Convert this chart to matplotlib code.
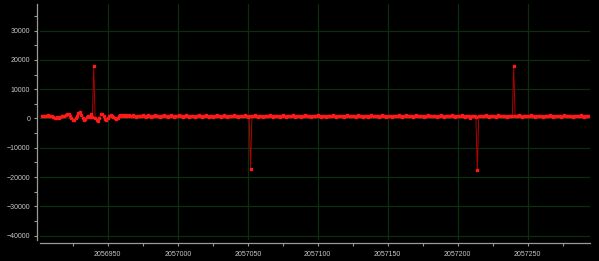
import numpy as np
import matplotlib.pyplot as plt
from matplotlib.ticker import MultipleLocator

# sample index of first point, one sample per unit
x_start = 2056903

# signal values, one per sample
signal = [
    900, 1000, 800, 900, 1100, 800, 700, 900, 600, 300,
    200, 400, 300, 600, 800, 700, 900, 1200, 1600, 1400,
    900, 300, -400, -600, 200, 1000, 1900, 2100, 1200, 300,
    -400, -300, 400, 1000, 600, 1500, 600, 17800, 300, -600,
    -900, 200, 1400, 1700, 900, -200, -500, 0, 700, 1200,
    800, 400, 0, -200, 300, 900, 1300, 1000, 1200, 900,
    1300, 800, 1100, 700, 900, 1200, 800, 600, 1000, 900,
    700, 1000, 1200, 800, 600, 900, 1100, 700, 500, 800,
    1000, 1300, 900, 700, 600, 800, 1000, 1200, 900, 700,
    500, 800, 1200, 900, 600, 1000, 800, 700, 1100, 900,
    800, 600, 900, 1100, 700, 500, 800, 1000, 900, 600,
    700, 1000, 1200, 800, 500, 700, 900, 1100, 800, 600,
    900, 700, 500, 800, 1000, 1300, 900, 700, 600, 900,
    1100, 800, 600, 700, 1000, 900, 700, 1200, 1000, 700,
    500, 800, 900, 700, 1000, 1100, 800, 600, 900, -17100,
    700, 700, 1100, 800, 600, 900, 1000, 700, 500, 800,
    1000, 700, 900, 1200, 800, 600, 700, 1000, 900, 700,
    500, 800, 1100, 900, 600, 800, 1000, 700, 900, 1100,
    800, 600, 700, 1000, 800, 500, 700, 900, 1200, 800,
    700, 900, 600, 800, 1000, 700, 900, 1100, 800, 600,
    700, 1000, 800, 500, 800, 900, 700, 1000, 1200, 800,
    600, 900, 700, 800, 1000, 700, 500, 800, 1100, 900,
    700, 800, 1000, 800, 600, 900, 1100, 700, 800, 600,
    900, 1000, 700, 500, 800, 1200, 900, 700, 800, 1000,
    700, 600, 900, 1100, 800, 700, 500, 900, 1000, 800,
    600, 800, 1000, 700, 900, 1200, 800, 600, 700, 900,
    1100, 800, 700, 1000, 900, 600, 800, 1100, 900, 700,
    800, 1000, 700, 500, 800, 900, 1200, 800, 700, 900,
    1000, 700, 600, 900, 800, 1100, 700, 500, 800, 1000,
    900, 700, 800, 1100, 900, 600, 800, 1000, 700, 900,
    1200, 800, 600, 700, 1000, 800, 300, 700, 1000, 800,
    600, -17700, 900, 800, 1000, 700, 900, 1200, 800, 600,
    700, 1000, 800, 900, 600, 800, 1100, 900, 700, 800,
    1000, 700, 600, 900, 800, 700, 800, 17800, 900, 800,
    900, 1100, 700, 600, 800, 1000, 900, 700, 800, 1100,
    900, 700, 500, 800, 1000, 800, 700, 900, 600, 800,
    1000, 700, 800, 1100, 900, 600, 800, 900, 700, 1000,
    800, 600, 900, 1100, 800, 700, 900, 1000, 700, 500,
    800, 1000, 900, 700, 800, 1100, 900, 600, 800, 900,
    700,
]

W, H = 599, 261
fig = plt.figure(figsize=(W / 100, H / 100), dpi=100, facecolor="black")
ax = fig.add_axes([40 / W, 21 / H, 550 / W, 236 / H], facecolor="black")

x = x_start + np.arange(len(signal))
ax.plot(x, signal, color="#b00000", lw=0.7, zorder=3)
ax.plot(x, signal, ls="none", marker="s", ms=1.6,
        mfc="#ff1a1a", mec="#ff1a1a", zorder=4)

ax.set_xlim(2056901.6, 2057294.5)
ax.set_ylim(-41500, 39100)

ax.xaxis.set_major_locator(MultipleLocator(50))
ax.xaxis.set_minor_locator(MultipleLocator(25))
ax.yaxis.set_major_locator(MultipleLocator(10000))
ax.yaxis.set_minor_locator(MultipleLocator(5000))
ax.ticklabel_format(useOffset=False, style="plain")

ax.grid(True, which="major", color="#0d2e0d", lw=0.9)
ax.set_axisbelow(True)

for side in ("top", "right"):
    ax.spines[side].set_visible(False)
for side in ("left", "bottom"):
    ax.spines[side].set_color("#9a9a9a")
    ax.spines[side].set_linewidth(0.9)
    ax.spines[side].set_position(("outward", 2.4))

ax.tick_params(which="both", colors="#9a9a9a", length=2, width=0.8,
               labelcolor="#c8c8c8", labelsize=5)
ax.tick_params(axis="y", pad=2.6)
ax.tick_params(axis="x", pad=3.2)
for lbl in ax.get_xticklabels() + ax.get_yticklabels():
    lbl.set_family("Liberation Sans")

fig.savefig("out.png", dpi=100, facecolor="black")
